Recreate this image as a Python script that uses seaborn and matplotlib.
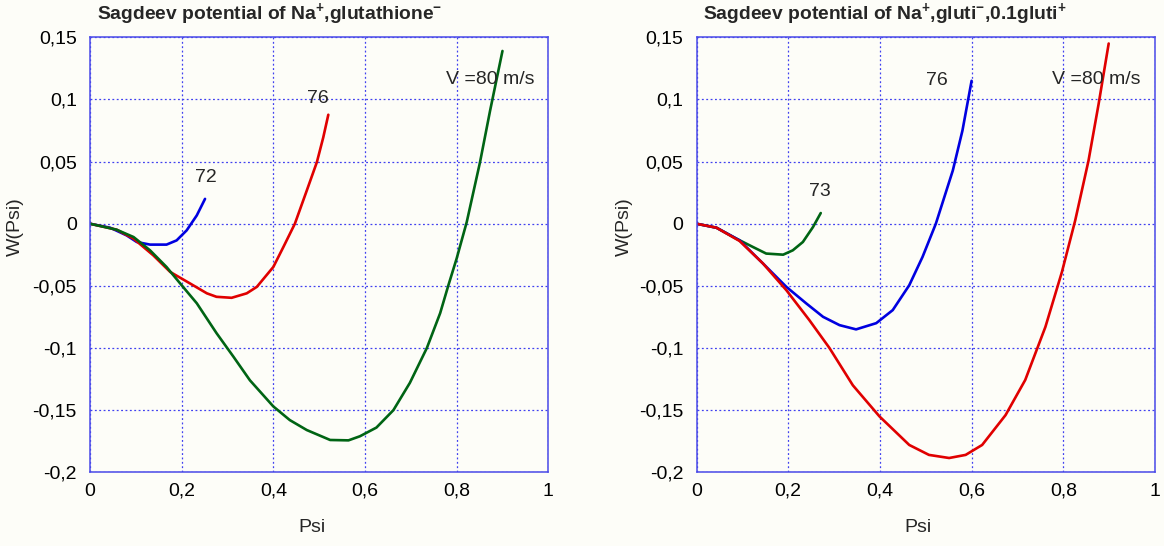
import matplotlib
matplotlib.use("Agg")
import matplotlib.pyplot as plt
import seaborn as sns
from matplotlib.ticker import FuncFormatter

# ---- data ----
# left panel: Na+, glutathione-
l72_x = [0, 0.044, 0.08, 0.102, 0.131, 0.167, 0.189, 0.211, 0.233, 0.251]
l72_y = [0, -0.0032, -0.0094, -0.0147, -0.0168, -0.0168, -0.0134, -0.0053, 0.0067, 0.020]
l76_x = [0, 0.058, 0.095, 0.138, 0.175, 0.218, 0.255, 0.276, 0.309, 0.342, 0.364, 0.4,
         0.422, 0.447, 0.473, 0.495, 0.509, 0.52]
l76_y = [0, -0.0048, -0.012, -0.0254, -0.0388, -0.048, -0.056, -0.0588, -0.0596, -0.056,
         -0.0508, -0.0348, -0.0187, 0.0, 0.0267, 0.0495, 0.0695, 0.0877]
l80_x = [0, 0.058, 0.095, 0.131, 0.167, 0.2, 0.233, 0.276, 0.313, 0.349, 0.4, 0.436, 0.473,
         0.524, 0.564, 0.589, 0.625, 0.662, 0.698, 0.735, 0.764, 0.782, 0.8, 0.822, 0.851,
         0.873, 0.9]
l80_y = [0, -0.0048, -0.0107, -0.0214, -0.0348, -0.0495, -0.064, -0.088, -0.107, -0.126,
         -0.147, -0.158, -0.166, -0.174, -0.1743, -0.171, -0.164, -0.150, -0.128, -0.100,
         -0.072, -0.0495, -0.028, 0.0013, 0.0495, 0.091, 0.139]

# right panel: Na+, gluti-, 0.1 gluti+
r73_x = [0, 0.0435, 0.087, 0.123, 0.152, 0.189, 0.21, 0.232, 0.254, 0.271]
r73_y = [0, -0.0032, -0.012, -0.0187, -0.024, -0.0249, -0.0214, -0.0147, -0.0027, 0.0086]
r76_x = [0, 0.0435, 0.094, 0.145, 0.196, 0.239, 0.276, 0.312, 0.348, 0.392, 0.428, 0.464,
         0.493, 0.522, 0.559, 0.58, 0.6]
r76_y = [0, -0.0032, -0.0134, -0.032, -0.0508, -0.064, -0.0749, -0.0816, -0.085, -0.080,
         -0.0695, -0.0495, -0.0267, 0.0, 0.0428, 0.0749, 0.115]
r80_x = [0, 0.0435, 0.094, 0.145, 0.196, 0.246, 0.29, 0.341, 0.399, 0.464, 0.507, 0.551,
         0.587, 0.623, 0.674, 0.717, 0.761, 0.797, 0.826, 0.855, 0.877, 0.899]
r80_y = [0, -0.0032, -0.0139, -0.032, -0.0535, -0.0775, -0.100, -0.130, -0.155, -0.178,
         -0.186, -0.1885, -0.186, -0.178, -0.154, -0.1257, -0.083, -0.0388, 0.0027, 0.0508,
         0.0963, 0.145]

x_ticks = [0, 0.2, 0.4, 0.6, 0.8, 1]
y_ticks = [-0.2, -0.15, -0.1, -0.05, 0, 0.05, 0.1, 0.15]

titles = ["Sagdeev potential of Na$^{\\mathbf{+}}$,glutathione$^{\\mathbf{-}}$",
          "Sagdeev potential of Na$^{\\mathbf{+}}$,gluti$^{\\mathbf{-}}$,0.1gluti$^{\\mathbf{+}}$"]

sns.set_theme(style="white")
plt.rcParams['font.family'] = ['Liberation Sans', 'DejaVu Sans']
plt.rcParams['mathtext.fontset'] = 'custom'
plt.rcParams['mathtext.rm'] = 'Liberation Sans'
plt.rcParams['mathtext.bf'] = 'Liberation Sans:bold'
plt.rcParams['mathtext.it'] = 'Liberation Sans:italic'

BG = '#fdfdf8'
AX_BLUE = '#4a4ae8'
GRID_BLUE = '#4040f0'
BLUE = '#0000e0'
RED = '#e00000'
GREEN = '#006414'
FS = 14

fig = plt.figure(figsize=(11.64, 5.46), dpi=100, facecolor=BG)
ax1 = fig.add_axes([90 / 1164, 1 - 472.3 / 546, 458.3 / 1164, 435 / 546])
ax2 = fig.add_axes([696.5 / 1164, 1 - 472.3 / 546, 458.5 / 1164, 435 / 546])


def comma(v, pos):
    s = f"{v:.2f}".rstrip('0').rstrip('.')
    if s in ("-0", "0"):
        s = "0"
    return s.replace('.', ',')


def style(ax, title, ylab_x):
    ax.set_facecolor(BG)
    ax.set_xlim(0, 1)
    ax.set_ylim(-0.2, 0.15)
    ax.set_xticks(x_ticks)
    ax.set_yticks(y_ticks)
    ax.xaxis.set_major_formatter(FuncFormatter(comma))
    ax.yaxis.set_major_formatter(FuncFormatter(comma))
    ax.tick_params(length=0, labelsize=FS, colors='black')
    ax.tick_params(axis='x', pad=7.5)
    ax.tick_params(axis='y', pad=9.5)
    ax.grid(True, color=GRID_BLUE, linestyle=(0, (1.5, 2)), linewidth=0.9)
    for s in ax.spines.values():
        s.set_visible(True)
        s.set_color(AX_BLUE)
        s.set_linewidth(1.1)
    ax.set_xlabel("Psi", fontsize=FS, va='top')
    ax.set_ylabel("W(Psi)", fontsize=FS)
    ax.xaxis.set_label_coords(0.484, -0.108)
    ax.yaxis.set_label_coords(ylab_x, 0.564)
    ax.text(0.015, 1.042, title, transform=ax.transAxes, fontsize=13.9,
            fontweight='bold', ha='left', va='baseline')


lw = 1.9
sns.lineplot(x=l72_x, y=l72_y, ax=ax1, color=BLUE, lw=lw, estimator=None, sort=False)
sns.lineplot(x=l76_x, y=l76_y, ax=ax1, color=RED, lw=lw, estimator=None, sort=False)
sns.lineplot(x=l80_x, y=l80_y, ax=ax1, color=GREEN, lw=lw, estimator=None, sort=False)
sns.lineplot(x=r73_x, y=r73_y, ax=ax2, color=GREEN, lw=lw, estimator=None, sort=False)
sns.lineplot(x=r76_x, y=r76_y, ax=ax2, color=BLUE, lw=lw, estimator=None, sort=False)
sns.lineplot(x=r80_x, y=r80_y, ax=ax2, color=RED, lw=lw, estimator=None, sort=False)

style(ax1, titles[0], -0.144)
style(ax2, titles[1], -0.1385)

ax1.text(0.253, 0.0374, "72", fontsize=FS, ha='center', va='center')
ax1.text(0.497, 0.101, "76", fontsize=FS, ha='center', va='center')
ax1.text(0.777, 0.1158, "V =80 m/s", fontsize=FS, ha='left', va='center')
ax2.text(0.27, 0.026, "73", fontsize=FS, ha='center', va='center')
ax2.text(0.524, 0.115, "76", fontsize=FS, ha='center', va='center')
ax2.text(0.775, 0.1158, "V =80 m/s", fontsize=FS, ha='left', va='center')

fig.savefig("out.png", dpi=100, facecolor=BG)
